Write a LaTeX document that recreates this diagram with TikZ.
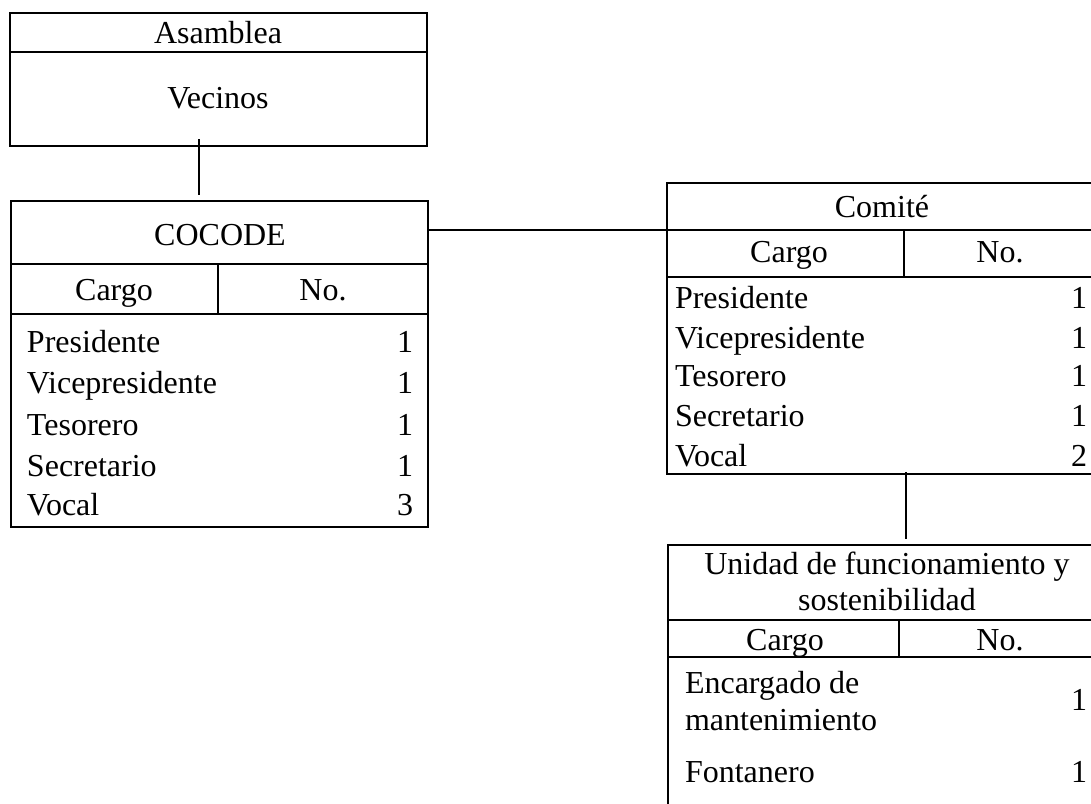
\documentclass[tikz,border=0pt]{standalone}
\usepackage{fontspec}
\setmainfont{Liberation Serif}
\tikzset{
  cell/.style={draw=black, line width=1.2pt, inner sep=0pt, outer sep=0pt, anchor=north west},
  txt/.style={font=\fontsize{32}{38}\selectfont, inner sep=0pt, outer sep=0pt, text=black},
  ctr/.style={txt, anchor=base},
  lft/.style={txt, anchor=base west},
  rgt/.style={txt, anchor=base east},
  link/.style={draw=black, line width=1.2pt},
}
\begin{document}
\begin{tikzpicture}[x=1pt,y=-1pt]
\useasboundingbox (0,0) rectangle (1091,803);
\fill[white] (0,0) rectangle (1091,803);
\begin{scope}
\clip (0,0) rectangle (1091,803);

% Asamblea
\node[cell, minimum width=417pt, minimum height=39pt] (asamT) at (10,13) {};
\node[cell, minimum width=417pt, minimum height=94pt] (asamB) at (10,52) {};
\node[ctr] (tAsam) at (218,43) {Asamblea};
\node[ctr] (tVec) at (218,108) {Vecinos};

% COCODE
\node[cell, minimum width=417pt, minimum height=63pt] (cocT) at (11,201) {};
\node[cell, minimum width=207pt, minimum height=50pt] (cocH1) at (11,264) {};
\node[cell, minimum width=210pt, minimum height=50pt] (cocH2) at (218,264) {};
\node[cell, minimum width=417pt, minimum height=213pt] (cocB) at (11,314) {};
\node[ctr] (tCoc) at (220,245) {COCODE};
\node[ctr] (tCocC) at (114,300) {Cargo};
\node[ctr] (tCocN) at (323,300) {No.};
\node[lft] (c1) at (27,352) {Presidente};
\node[lft] (c2) at (27,393) {Vicepresidente};
\node[lft] (c3) at (27,435) {Tesorero};
\node[lft] (c4) at (27,476) {Secretario};
\node[lft] (c5) at (27,515) {Vocal};
\node[rgt] (n1) at (413,352) {1};
\node[rgt] (n2) at (413,393) {1};
\node[rgt] (n3) at (413,435) {1};
\node[rgt] (n4) at (413,476) {1};
\node[rgt] (n5) at (413,515) {3};

% Comite
\node[cell, minimum width=434pt, minimum height=47pt] (comT) at (667,183) {};
\node[cell, minimum width=237pt, minimum height=47pt] (comH1) at (667,230) {};
\node[cell, minimum width=197pt, minimum height=47pt] (comH2) at (904,230) {};
\node[cell, minimum width=434pt, minimum height=197pt] (comB) at (667,277) {};
\node[ctr] (tCom) at (882,217) {Comité};
\node[ctr] (tComC) at (789,262) {Cargo};
\node[ctr] (tComN) at (1000,262) {No.};
\node[lft] (m1) at (675,308) {Presidente};
\node[lft] (m2) at (675,348) {Vicepresidente};
\node[lft] (m3) at (675,386) {Tesorero};
\node[lft] (m4) at (675,426) {Secretario};
\node[lft] (m5) at (675,466) {Vocal};
\node[rgt] (k1) at (1087,308) {1};
\node[rgt] (k2) at (1087,348) {1};
\node[rgt] (k3) at (1087,386) {1};
\node[rgt] (k4) at (1087,426) {1};
\node[rgt] (k5) at (1087,466) {2};

% Unidad
\node[cell, minimum width=433pt, minimum height=75pt] (uniT) at (668,545) {};
\node[cell, minimum width=231pt, minimum height=37pt] (uniH1) at (668,620) {};
\node[cell, minimum width=202pt, minimum height=37pt] (uniH2) at (899,620) {};
\node[cell, minimum width=433pt, minimum height=173pt] (uniB) at (668,657) {};
\node[ctr] (tUni1) at (887,574) {Unidad de funcionamiento y};
\node[ctr] (tUni2) at (887,610) {sostenibilidad};
\node[ctr] (tUniC) at (785,650) {Cargo};
\node[ctr] (tUniN) at (1000,650) {No.};
\node[lft] (u1a) at (685,693) {Encargado de};
\node[lft] (u1b) at (685,730) {mantenimiento};
\node[rgt] (v1) at (1087,710) {1};
\node[lft] (u2) at (685,782) {Fontanero};
\node[rgt] (v2) at (1087,782) {1};

% connectors
\draw[link] ([xshift=-19.5pt,yshift=7pt]asamB.south) -- ([xshift=-20.5pt,yshift=6pt]cocT.north);
\draw[link] (cocT.east |- comT.south west) -- (comT.south west);
\draw[link] ([xshift=22pt,yshift=2pt]comB.south) -- ([xshift=21.5pt,yshift=6pt]uniT.north);
\end{scope}
\end{tikzpicture}
\end{document}
